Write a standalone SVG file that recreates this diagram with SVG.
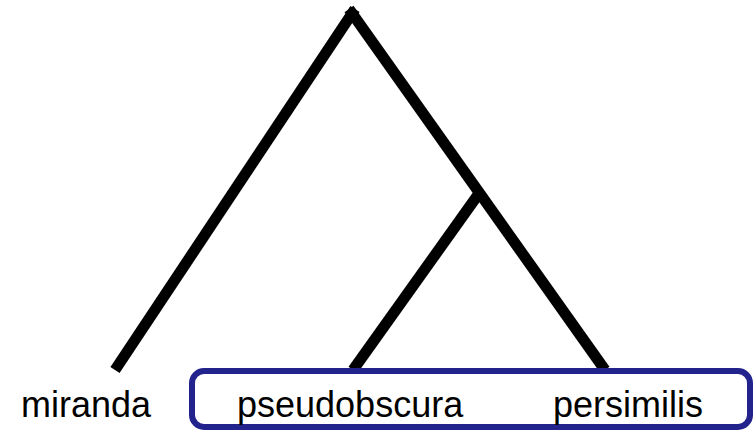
<svg xmlns="http://www.w3.org/2000/svg" width="755" height="430" viewBox="0 0 755 430">
<style>
.br{stroke:#000;stroke-width:11;fill:none;stroke-linecap:butt}
.lbl{font-family:"Liberation Sans",Arial,sans-serif;font-size:36px;fill:#000}
</style>
<rect width="755" height="430" fill="#fff"/>
<g id="connectors">
<line class="br" x1="355" y1="9" x2="115" y2="370"/>
<line class="br" x1="349" y1="9" x2="605" y2="370"/>
<line class="br" x1="480" y1="192" x2="353" y2="370"/>
</g>
<g id="box"><rect x="192" y="371" width="558" height="56" rx="12" fill="none" stroke="#23238e" stroke-width="6"/></g>
<g id="miranda"><text class="lbl" x="21" y="417">miranda</text></g>
<g id="pseudobscura"><text class="lbl" x="237" y="417">pseudobscura</text></g>
<g id="persimilis"><text class="lbl" x="553" y="417">persimilis</text></g>
</svg>
